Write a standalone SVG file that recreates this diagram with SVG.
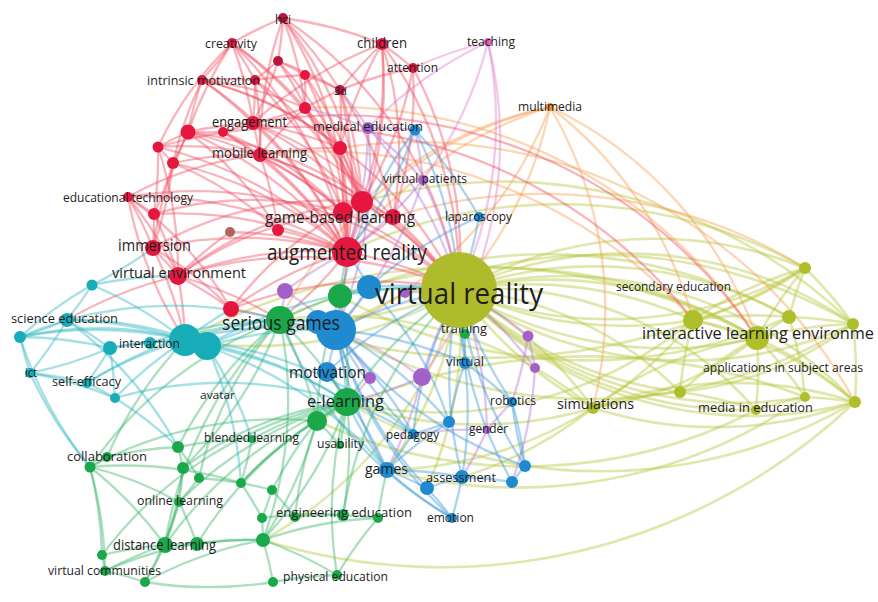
<svg xmlns="http://www.w3.org/2000/svg" width="878" height="602" viewBox="0 0 878 602">
<style>
.e path{fill:none;stroke-width:2.3;stroke-linecap:round;stroke-opacity:.42}
.er path{stroke:#ee4a5c}.eo path{stroke:#f5a050}.ek path{stroke:#e57cc8}.ep path{stroke:#b372d8}
.eb path{stroke:#3a96d8}.eg path{stroke:#38b266}.ec path{stroke:#2ab4c2}.ey path{stroke:#b6c63a;stroke-width:2.6}
.r{fill:#e5173f}.dr{fill:#b81540}.br{fill:#b5625a}.g{fill:#1aa84a}.c{fill:#17adb8}.b{fill:#1f8ad0}
.p{fill:#a460c8}.y{fill:#aebf2a}.o{fill:#f08c3a}.k{fill:#e060c0}
text{font-family:"Open Sans","DejaVu Sans",sans-serif;fill:#1e1e1e;text-anchor:middle;dominant-baseline:central}
</style>
<rect width="878" height="602" fill="#fff"/>
<g id="connectors" class="e">
<g class="ey">
<path d="M459 290A400 400 0 0 1 805 268"/><path d="M459 290A400 400 0 0 1 693 320"/><path d="M459 290A400 400 0 0 1 789 317"/><path d="M459 290A400 400 0 0 1 853 324"/><path d="M459 290A400 400 0 0 1 757 338"/>
<path d="M680 392A400 400 0 0 1 459 290"/><path d="M756 410A400 400 0 0 1 459 290"/><path d="M805 397A400 400 0 0 1 459 290"/><path d="M855 402A400 400 0 0 1 459 290"/><path d="M593 408A400 400 0 0 1 459 290"/>
<path d="M757 338A400 400 0 0 1 459 290"/><path d="M853 324A400 400 0 0 1 459 290"/><path d="M693 320A400 400 0 0 1 757 338"/><path d="M693 320A400 400 0 0 1 805 268"/><path d="M693 320A400 400 0 0 1 789 317"/>
<path d="M680 392A400 400 0 0 1 693 320"/><path d="M693 320A400 400 0 0 1 593 408"/><path d="M757 338A400 400 0 0 1 805 268"/><path d="M757 338A400 400 0 0 1 789 317"/><path d="M757 338A400 400 0 0 1 853 324"/>
<path d="M680 392A400 400 0 0 1 757 338"/><path d="M757 338A400 400 0 0 1 756 410"/><path d="M757 338A400 400 0 0 1 805 397"/><path d="M757 338A400 400 0 0 1 855 402"/><path d="M789 317A400 400 0 0 1 805 268"/>
<path d="M789 317A400 400 0 0 1 853 324"/><path d="M789 317A400 400 0 0 1 805 397"/><path d="M853 324A400 400 0 0 1 855 402"/><path d="M805 268A400 400 0 0 1 853 324"/><path d="M680 392A400 400 0 0 1 756 410"/>
<path d="M756 410A400 400 0 0 1 805 397"/><path d="M805 397A400 400 0 0 1 855 402"/><path d="M593 408A400 400 0 0 1 680 392"/><path d="M593 408A400 400 0 0 1 347 402"/><path d="M593 408A400 400 0 0 1 387 470"/>
<path d="M280 320A400 400 0 0 1 593 408"/><path d="M280 320A500 500 0 0 1 757 338"/><path d="M855 402A500 500 0 0 1 347 402"/><path d="M853 324A500 500 0 0 1 336 330"/><path d="M347 252A500 500 0 0 1 805 268"/>
<path d="M185 340A600 600 0 0 1 757 338"/><path d="M805 397A500 500 0 0 1 387 470"/><path d="M693 320A400 400 0 0 1 347 402"/><path d="M459 290A400 400 0 0 1 855 402"/><path d="M459 290A400 400 0 0 1 280 320"/>
<path d="M459 290A400 400 0 0 1 185 340"/><path d="M459 290A400 400 0 0 1 387 470"/><path d="M459 290A400 400 0 0 1 263 540"/><path d="M459 290A400 400 0 0 1 427 488"/><path d="M362 202A500 500 0 0 1 853 324"/>
<path d="M756 410A500 500 0 0 1 317 421"/><path d="M593 408A400 400 0 0 1 462 477"/><path d="M693 320A400 400 0 0 1 459 290"/><path d="M805 268A400 400 0 0 1 459 290"/><path d="M855 402A600 600 0 0 1 263 540"/>
<path d="M459 290A350 350 0 0 1 680 392"/><path d="M459 290A350 350 0 0 1 756 410"/><path d="M593 408A350 350 0 0 1 757 338"/><path d="M593 408A400 400 0 0 1 855 402"/><path d="M855 402A400 400 0 0 1 593 408"/>
<path d="M757 338A350 350 0 0 1 593 408"/><path d="M805 268A350 350 0 0 1 693 320"/><path d="M853 324A350 350 0 0 1 680 392"/><path d="M336 330A500 500 0 0 1 853 324"/><path d="M805 268A600 600 0 0 1 280 320"/>
<path d="M317 421A600 600 0 0 1 805 397"/><path d="M369 287A500 500 0 0 1 789 317"/><path d="M789 317A500 500 0 0 1 340 296"/><path d="M459 290A400 400 0 0 1 593 408"/><path d="M693 320A400 400 0 0 1 855 402"/>
</g>
<g class="eo">
<path d="M550 107A400 400 0 0 1 459 290"/><path d="M347 252A400 400 0 0 1 550 107"/><path d="M550 107A400 400 0 0 1 593 408"/><path d="M550 107A400 400 0 0 1 757 338"/><path d="M550 107A400 400 0 0 1 336 330"/>
<path d="M362 202A400 400 0 0 1 550 107"/><path d="M550 107A400 400 0 0 1 693 320"/><path d="M280 320A400 400 0 0 1 550 107"/><path d="M340 148A500 500 0 0 1 855 402"/><path d="M393 217A500 500 0 0 1 805 268"/>
<path d="M260 155A500 500 0 0 1 693 320"/><path d="M305 108A500 500 0 0 1 757 338"/>
</g>
<g class="ek">
<path d="M413 68A400 400 0 0 1 488 42"/><path d="M488 42A400 400 0 0 1 459 290"/><path d="M488 42A400 400 0 0 1 423 180"/><path d="M368 128A400 400 0 0 1 488 42"/><path d="M488 42A400 400 0 0 1 422 377"/>
</g>
<g class="er">
<path d="M283 18A400 400 0 0 1 278 61"/><path d="M232 43A400 400 0 0 1 283 18"/><path d="M283 18A400 400 0 0 1 340 90"/><path d="M283 18A400 400 0 0 1 347 252"/><path d="M283 18A400 400 0 0 1 362 202"/>
<path d="M260 155A400 400 0 0 1 283 18"/><path d="M283 18A400 400 0 0 1 382 44"/><path d="M283 18A400 400 0 0 1 459 290"/><path d="M232 43A400 400 0 0 1 202 80"/><path d="M232 43A400 400 0 0 1 255 80"/>
<path d="M232 43A400 400 0 0 1 253 123"/><path d="M232 43A400 400 0 0 1 347 252"/><path d="M188 132A400 400 0 0 1 232 43"/><path d="M278 61A400 400 0 0 1 255 80"/><path d="M278 61A400 400 0 0 1 305 75"/>
<path d="M278 61A400 400 0 0 1 253 123"/><path d="M278 61A400 400 0 0 1 347 252"/><path d="M278 61A400 400 0 0 1 362 202"/><path d="M278 61A400 400 0 0 1 340 90"/><path d="M202 80A400 400 0 0 1 255 80"/>
<path d="M188 132A400 400 0 0 1 202 80"/><path d="M202 80A400 400 0 0 1 253 123"/><path d="M202 80A400 400 0 0 1 347 252"/><path d="M173 163A400 400 0 0 1 202 80"/><path d="M255 80A400 400 0 0 1 253 123"/>
<path d="M255 80A400 400 0 0 1 260 155"/><path d="M255 80A400 400 0 0 1 343 212"/><path d="M255 80A400 400 0 0 1 305 75"/><path d="M305 75A400 400 0 0 1 340 90"/><path d="M305 75A400 400 0 0 1 305 108"/>
<path d="M305 75A400 400 0 0 1 347 252"/><path d="M305 75A400 400 0 0 1 362 202"/><path d="M340 90A400 400 0 0 1 382 44"/><path d="M340 90A400 400 0 0 1 413 68"/><path d="M305 108A400 400 0 0 1 340 90"/>
<path d="M340 90A400 400 0 0 1 340 148"/><path d="M340 90A400 400 0 0 1 347 252"/><path d="M340 90A400 400 0 0 1 362 202"/><path d="M382 44A400 400 0 0 1 413 68"/><path d="M382 44A400 400 0 0 1 347 252"/>
<path d="M382 44A400 400 0 0 1 362 202"/><path d="M340 148A400 400 0 0 1 382 44"/><path d="M382 44A400 400 0 0 1 459 290"/><path d="M253 123A400 400 0 0 1 382 44"/><path d="M413 68A400 400 0 0 1 362 202"/>
<path d="M413 68A400 400 0 0 1 459 290"/><path d="M413 68A400 400 0 0 1 393 217"/><path d="M305 108A400 400 0 0 1 253 123"/><path d="M305 108A400 400 0 0 1 340 148"/><path d="M305 108A400 400 0 0 1 362 202"/>
<path d="M260 155A400 400 0 0 1 305 108"/><path d="M253 123A400 400 0 0 1 223 132"/><path d="M188 132A400 400 0 0 1 253 123"/><path d="M253 123A400 400 0 0 1 260 155"/><path d="M253 123A400 400 0 0 1 347 252"/>
<path d="M253 123A400 400 0 0 1 362 202"/><path d="M253 123A400 400 0 0 1 340 148"/><path d="M223 132A400 400 0 0 1 188 132"/><path d="M223 132A400 400 0 0 1 260 155"/><path d="M223 132A400 400 0 0 1 347 252"/>
<path d="M158 147A400 400 0 0 1 188 132"/><path d="M188 132A400 400 0 0 1 173 163"/><path d="M188 132A400 400 0 0 1 347 252"/><path d="M153 248A400 400 0 0 1 188 132"/><path d="M158 147A400 400 0 0 1 173 163"/>
<path d="M158 147A400 400 0 0 1 154 214"/><path d="M158 147A400 400 0 0 1 347 252"/><path d="M158 147A400 400 0 0 1 178 276"/><path d="M260 155A400 400 0 0 1 340 148"/><path d="M260 155A400 400 0 0 1 347 252"/>
<path d="M260 155A400 400 0 0 1 362 202"/><path d="M260 155A400 400 0 0 1 343 212"/><path d="M260 155A400 400 0 0 1 278 230"/><path d="M260 155A400 400 0 0 1 459 290"/><path d="M173 163A400 400 0 0 1 154 214"/>
<path d="M173 163A400 400 0 0 1 153 248"/><path d="M173 163A400 400 0 0 1 347 252"/><path d="M340 148A400 400 0 0 1 362 202"/><path d="M340 148A400 400 0 0 1 343 212"/><path d="M340 148A400 400 0 0 1 347 252"/>
<path d="M128 197A400 400 0 0 1 154 214"/><path d="M128 197A400 400 0 0 1 153 248"/><path d="M128 197A400 400 0 0 1 347 252"/><path d="M128 197A400 400 0 0 1 178 276"/><path d="M185 340A400 400 0 0 1 128 197"/>
<path d="M154 214A400 400 0 0 1 153 248"/><path d="M154 214A400 400 0 0 1 347 252"/><path d="M154 214A400 400 0 0 1 178 276"/><path d="M230 232A400 400 0 0 1 347 252"/><path d="M178 276A400 400 0 0 1 230 232"/>
<path d="M278 230A400 400 0 0 1 347 252"/><path d="M362 202A400 400 0 0 1 343 212"/><path d="M362 202A400 400 0 0 1 393 217"/><path d="M362 202A400 400 0 0 1 459 290"/><path d="M362 202A400 400 0 0 1 347 252"/>
<path d="M343 212A400 400 0 0 1 347 252"/><path d="M343 212A400 400 0 0 1 459 290"/><path d="M393 217A400 400 0 0 1 459 290"/><path d="M393 217A400 400 0 0 1 347 252"/><path d="M347 252A400 400 0 0 1 459 290"/>
<path d="M178 276A400 400 0 0 1 347 252"/><path d="M153 248A400 400 0 0 1 347 252"/><path d="M231 309A400 400 0 0 1 347 252"/><path d="M347 252A400 400 0 0 1 280 320"/><path d="M347 252A400 400 0 0 1 336 330"/>
<path d="M153 248A400 400 0 0 1 178 276"/><path d="M153 248A400 400 0 0 1 185 340"/><path d="M178 276A400 400 0 0 1 185 340"/><path d="M178 276A400 400 0 0 1 231 309"/><path d="M178 276A400 400 0 0 1 280 320"/>
<path d="M178 276A400 400 0 0 1 459 290"/><path d="M67 320A400 400 0 0 1 178 276"/><path d="M231 309A400 400 0 0 1 280 320"/><path d="M231 309A400 400 0 0 1 459 290"/><path d="M188 132A400 400 0 0 1 459 290"/>
<path d="M158 147A500 500 0 0 1 693 320"/><path d="M253 123A500 500 0 0 1 757 338"/><path d="M202 80A400 400 0 0 1 459 290"/><path d="M128 197A400 400 0 0 1 459 290"/><path d="M232 43A400 400 0 0 1 362 202"/>
<path d="M202 80A350 350 0 0 1 305 108"/><path d="M188 132A350 350 0 0 1 343 212"/><path d="M158 147A350 350 0 0 1 260 155"/><path d="M173 163A350 350 0 0 1 278 230"/><path d="M128 197A350 350 0 0 1 260 155"/>
<path d="M153 248A350 350 0 0 1 362 202"/><path d="M178 276A350 350 0 0 1 362 202"/><path d="M154 214A350 350 0 0 1 343 212"/><path d="M223 132A350 350 0 0 1 343 212"/><path d="M255 80A350 350 0 0 1 362 202"/>
<path d="M232 43A350 350 0 0 1 305 108"/><path d="M283 18A350 350 0 0 1 305 108"/><path d="M382 44A350 350 0 0 1 393 217"/><path d="M340 90A350 350 0 0 1 393 217"/><path d="M253 123A350 350 0 0 1 393 217"/>
<path d="M188 132A350 350 0 0 1 278 230"/><path d="M178 276A350 350 0 0 1 343 212"/><path d="M231 309A350 350 0 0 1 362 202"/><path d="M153 248A350 350 0 0 1 231 309"/><path d="M128 197A350 350 0 0 1 231 309"/>
<path d="M158 147A350 350 0 0 1 232 43"/><path d="M202 80A350 350 0 0 1 340 148"/><path d="M173 163A350 350 0 0 1 260 155"/>
</g>
<g class="ep">
<path d="M340 90A400 400 0 0 1 368 128"/><path d="M368 128A400 400 0 0 1 415 130"/><path d="M368 128A400 400 0 0 1 423 180"/><path d="M368 128A400 400 0 0 1 347 252"/><path d="M368 128A400 400 0 0 1 459 290"/>
<path d="M368 128A400 400 0 0 1 336 330"/><path d="M305 108A400 400 0 0 1 368 128"/><path d="M423 180A400 400 0 0 1 459 290"/><path d="M415 130A400 400 0 0 1 423 180"/><path d="M423 180A400 400 0 0 1 336 330"/>
<path d="M423 180A400 400 0 0 1 347 252"/><path d="M285 291A400 400 0 0 1 347 252"/><path d="M285 291A400 400 0 0 1 280 320"/><path d="M285 291A400 400 0 0 1 336 330"/><path d="M405 293A400 400 0 0 1 459 290"/>
<path d="M336 330A400 400 0 0 1 370 378"/><path d="M370 378A400 400 0 0 1 347 402"/><path d="M422 377A400 400 0 0 1 459 290"/><path d="M336 330A400 400 0 0 1 422 377"/><path d="M422 377A400 400 0 0 1 347 402"/>
<path d="M422 377A400 400 0 0 1 387 470"/><path d="M459 290A400 400 0 0 1 528 336"/><path d="M528 336A400 400 0 0 1 535 368"/><path d="M528 336A400 400 0 0 1 512 402"/><path d="M459 290A400 400 0 0 1 535 368"/>
<path d="M535 368A400 400 0 0 1 512 482"/><path d="M459 290A400 400 0 0 1 487 430"/><path d="M487 430A400 400 0 0 1 512 402"/><path d="M413 434A400 400 0 0 1 487 430"/><path d="M487 430A400 400 0 0 1 462 477"/>
</g>
<g class="eb">
<path d="M415 130A400 400 0 0 1 479 217"/><path d="M415 130A400 400 0 0 1 459 290"/><path d="M336 330A400 400 0 0 1 415 130"/><path d="M415 130A400 400 0 0 1 347 252"/><path d="M479 217A400 400 0 0 1 459 290"/>
<path d="M369 287A400 400 0 0 1 479 217"/><path d="M369 287A400 400 0 0 1 459 290"/><path d="M369 287A400 400 0 0 1 336 330"/><path d="M347 252A400 400 0 0 1 369 287"/><path d="M340 296A400 400 0 0 1 369 287"/>
<path d="M336 330A400 400 0 0 1 280 320"/><path d="M318 322A400 400 0 0 1 336 330"/><path d="M336 330A400 400 0 0 1 327 372"/><path d="M336 330A400 400 0 0 1 347 402"/><path d="M336 330A400 400 0 0 1 459 290"/>
<path d="M185 340A400 400 0 0 1 336 330"/><path d="M387 470A400 400 0 0 1 336 330"/><path d="M336 330A400 400 0 0 1 465 363"/><path d="M280 320A400 400 0 0 1 318 322"/><path d="M327 372A400 400 0 0 1 347 402"/>
<path d="M327 372A400 400 0 0 1 459 290"/><path d="M327 372A400 400 0 0 1 387 470"/><path d="M465 363A400 400 0 0 1 459 290"/><path d="M465 363A400 400 0 0 1 512 402"/><path d="M449 422A400 400 0 0 1 465 363"/>
<path d="M465 363A400 400 0 0 1 462 477"/><path d="M465 363A400 400 0 0 1 465 334"/><path d="M512 402A400 400 0 0 1 459 290"/><path d="M512 402A400 400 0 0 1 525 466"/><path d="M449 422A400 400 0 0 1 413 434"/>
<path d="M387 470A400 400 0 0 1 449 422"/><path d="M336 330A400 400 0 0 1 449 422"/><path d="M413 434A400 400 0 0 1 387 470"/><path d="M347 402A400 400 0 0 1 413 434"/><path d="M413 434A400 400 0 0 1 336 330"/>
<path d="M387 470A400 400 0 0 1 347 402"/><path d="M387 470A400 400 0 0 1 427 488"/><path d="M387 470A400 400 0 0 1 462 477"/><path d="M452 518A400 400 0 0 1 387 470"/><path d="M427 488A400 400 0 0 1 462 477"/>
<path d="M462 477A400 400 0 0 1 512 482"/><path d="M462 477A400 400 0 0 1 452 518"/><path d="M427 488A400 400 0 0 1 452 518"/><path d="M512 482A400 400 0 0 1 525 466"/><path d="M525 466A400 400 0 0 1 459 290"/>
<path d="M512 482A400 400 0 0 1 459 290"/><path d="M525 466A400 400 0 0 1 512 402"/><path d="M452 518A400 400 0 0 1 336 330"/><path d="M462 477A400 400 0 0 1 459 290"/><path d="M427 488A400 400 0 0 1 336 330"/>
<path d="M413 434A400 400 0 0 1 459 290"/><path d="M525 466A400 400 0 0 1 336 330"/><path d="M452 518A400 400 0 0 1 280 320"/><path d="M318 322A350 350 0 0 1 413 434"/><path d="M369 287A350 350 0 0 1 449 422"/>
</g>
<g class="eg">
<path d="M340 296A400 400 0 0 1 459 290"/><path d="M280 320A400 400 0 0 1 340 296"/><path d="M340 296A400 400 0 0 1 347 402"/><path d="M340 296A400 400 0 0 1 347 252"/><path d="M280 320A400 400 0 0 1 347 402"/>
<path d="M185 340A400 400 0 0 1 280 320"/><path d="M280 320A400 400 0 0 1 317 421"/><path d="M178 447A400 400 0 0 1 280 320"/><path d="M90 467A400 400 0 0 1 280 320"/><path d="M165 545A400 400 0 0 1 280 320"/>
<path d="M347 402A400 400 0 0 1 317 421"/><path d="M347 402A400 400 0 0 1 340 445"/><path d="M252 439A400 400 0 0 1 347 402"/><path d="M347 402A400 400 0 0 1 263 540"/><path d="M165 545A400 400 0 0 1 347 402"/>
<path d="M347 402A400 400 0 0 1 343 515"/><path d="M347 402A400 400 0 0 1 459 290"/><path d="M241 483A400 400 0 0 1 347 402"/><path d="M179 502A400 400 0 0 1 347 402"/><path d="M317 421A400 400 0 0 1 340 445"/>
<path d="M317 421A400 400 0 0 1 263 540"/><path d="M272 490A400 400 0 0 1 317 421"/><path d="M465 334A400 400 0 0 1 459 290"/><path d="M178 447A400 400 0 0 1 252 439"/><path d="M252 439A400 400 0 0 1 241 483"/>
<path d="M178 447A400 400 0 0 1 183 468"/><path d="M178 447A400 400 0 0 1 199 478"/><path d="M107 457A400 400 0 0 1 178 447"/><path d="M183 468A400 400 0 0 1 179 502"/><path d="M183 468A400 400 0 0 1 165 545"/>
<path d="M199 478A400 400 0 0 1 241 483"/><path d="M199 478A400 400 0 0 1 179 502"/><path d="M241 483A400 400 0 0 1 272 490"/><path d="M241 483A400 400 0 0 1 262 518"/><path d="M272 490A400 400 0 0 1 262 518"/>
<path d="M272 490A400 400 0 0 1 295 517"/><path d="M107 457A400 400 0 0 1 90 467"/><path d="M90 467A400 400 0 0 1 102 555"/><path d="M90 467A400 400 0 0 1 105 571"/><path d="M90 467A400 400 0 0 1 165 545"/>
<path d="M107 457A400 400 0 0 1 185 340"/><path d="M179 502A400 400 0 0 1 165 545"/><path d="M179 502A400 400 0 0 1 197 544"/><path d="M179 502A400 400 0 0 1 145 582"/><path d="M262 518A400 400 0 0 1 263 540"/>
<path d="M262 518A400 400 0 0 1 343 515"/><path d="M263 540A400 400 0 0 1 273 582"/><path d="M263 540A400 400 0 0 1 337 575"/><path d="M197 544A400 400 0 0 1 263 540"/><path d="M165 545A400 400 0 0 1 197 544"/>
<path d="M102 555A400 400 0 0 1 165 545"/><path d="M105 571A400 400 0 0 1 165 545"/><path d="M165 545A400 400 0 0 1 145 582"/><path d="M102 555A400 400 0 0 1 105 571"/><path d="M105 571A400 400 0 0 1 145 582"/>
<path d="M273 582A400 400 0 0 1 145 582"/><path d="M273 582A400 400 0 0 1 337 575"/><path d="M337 575A400 400 0 0 1 378 518"/><path d="M295 517A400 400 0 0 1 343 515"/><path d="M343 515A400 400 0 0 1 378 518"/>
<path d="M378 518A400 400 0 0 1 387 470"/><path d="M280 320A400 400 0 0 1 183 468"/><path d="M280 320A400 400 0 0 1 263 540"/><path d="M295 517A400 400 0 0 1 317 421"/><path d="M317 421A400 400 0 0 1 340 296"/>
<path d="M90 467A400 400 0 0 1 317 421"/><path d="M102 555A400 400 0 0 1 347 402"/><path d="M343 515A400 400 0 0 1 459 290"/><path d="M337 575A400 400 0 0 1 347 402"/><path d="M197 544A400 400 0 0 1 347 402"/>
<path d="M145 582A400 400 0 0 1 263 540"/><path d="M90 467A400 400 0 0 1 241 483"/><path d="M263 540A400 400 0 0 1 378 518"/><path d="M183 468A350 350 0 0 1 347 402"/><path d="M199 478A350 350 0 0 1 280 320"/>
<path d="M105 571A350 350 0 0 1 263 540"/><path d="M90 467A350 350 0 0 1 179 502"/><path d="M241 483A350 350 0 0 1 317 421"/>
</g>
<g class="ec">
<path d="M92 285A400 400 0 0 1 67 320"/><path d="M92 285A400 400 0 0 1 185 340"/><path d="M153 248A400 400 0 0 1 92 285"/><path d="M20 337A400 400 0 0 1 92 285"/><path d="M67 320A400 400 0 0 1 20 337"/>
<path d="M67 320A400 400 0 0 1 110 348"/><path d="M67 320A400 400 0 0 1 185 340"/><path d="M67 320A400 400 0 0 1 30 373"/><path d="M67 320A400 400 0 0 1 280 320"/><path d="M30 373A400 400 0 0 1 20 337"/>
<path d="M20 337A400 400 0 0 1 110 348"/><path d="M20 337A400 400 0 0 1 185 340"/><path d="M110 348A400 400 0 0 1 185 340"/><path d="M110 348A400 400 0 0 1 30 373"/><path d="M110 348A400 400 0 0 1 87 383"/>
<path d="M110 348A400 400 0 0 1 115 398"/><path d="M185 340A400 400 0 0 1 207 346"/><path d="M207 346A400 400 0 0 1 280 320"/><path d="M115 398A400 400 0 0 1 185 340"/><path d="M87 383A400 400 0 0 1 185 340"/>
<path d="M185 340A400 400 0 0 1 347 402"/><path d="M207 346A400 400 0 0 1 336 330"/><path d="M207 346A400 400 0 0 1 347 402"/><path d="M207 346A400 400 0 0 1 459 290"/><path d="M30 373A400 400 0 0 1 87 383"/>
<path d="M30 373A400 400 0 0 1 115 398"/><path d="M87 383A400 400 0 0 1 115 398"/><path d="M87 383A400 400 0 0 1 280 320"/><path d="M115 398A400 400 0 0 1 178 447"/><path d="M115 398A400 400 0 0 1 347 402"/>
<path d="M90 467A400 400 0 0 1 20 337"/><path d="M90 467A400 400 0 0 1 30 373"/><path d="M67 320A400 400 0 0 1 178 447"/><path d="M92 285A400 400 0 0 1 178 276"/><path d="M185 340A400 400 0 0 1 413 434"/>
<path d="M185 340A400 400 0 0 1 387 470"/><path d="M207 346A400 400 0 0 1 241 483"/><path d="M150 343A400 400 0 0 1 185 340"/><path d="M150 343A400 400 0 0 1 280 320"/><path d="M110 348A400 400 0 0 1 150 343"/>
<path d="M185 340A400 400 0 0 1 231 309"/><path d="M20 337A400 400 0 0 1 67 320"/><path d="M207 346A400 400 0 0 1 252 439"/><path d="M67 320A350 350 0 0 1 207 346"/><path d="M20 337A350 350 0 0 1 207 346"/>
</g>
</g>
<g id="nodes">
<g id="n-r3"><circle class="dr" cx="278" cy="61" r="5"/></g>
<g id="n-r5"><circle class="r" cx="255" cy="80" r="5"/></g>
<g id="n-r6"><circle class="r" cx="305" cy="75" r="5"/></g>
<g id="n-r10"><circle class="r" cx="305" cy="108" r="6"/></g>
<g id="n-r12"><circle class="r" cx="223" cy="132" r="5"/></g>
<g id="n-r13"><circle class="r" cx="188" cy="132" r="7.5"/></g>
<g id="n-r14"><circle class="r" cx="158" cy="147" r="5.5"/></g>
<g id="n-r16"><circle class="r" cx="173" cy="163" r="6"/></g>
<g id="n-r17"><circle class="r" cx="340" cy="148" r="7"/></g>
<g id="n-r19"><circle class="r" cx="154" cy="214" r="6"/></g>
<g id="n-r20"><circle class="br" cx="230" cy="232" r="5"/></g>
<g id="n-r21"><circle class="r" cx="278" cy="230" r="6"/></g>
<g id="n-r22"><circle class="r" cx="362" cy="202" r="11"/></g>
<g id="n-r24"><circle class="r" cx="393" cy="217" r="8"/></g>
<g id="n-r28"><circle class="r" cx="231" cy="309" r="8"/></g>
<g id="n-b1"><circle class="b" cx="415" cy="130" r="5.5"/></g>
<g id="n-b3"><circle class="b" cx="369" cy="287" r="12"/></g>
<g id="n-b4"><circle class="b" cx="336" cy="330" r="20"/></g>
<g id="n-b5"><circle class="b" cx="318" cy="322" r="12"/></g>
<g id="n-b9"><circle class="b" cx="449" cy="422" r="6"/></g>
<g id="n-b13"><circle class="b" cx="427" cy="488" r="7"/></g>
<g id="n-b14"><circle class="b" cx="512" cy="482" r="6"/></g>
<g id="n-b15"><circle class="b" cx="525" cy="466" r="6"/></g>
<g id="n-p3"><circle class="p" cx="285" cy="291" r="8"/></g>
<g id="n-p4"><circle class="p" cx="405" cy="293" r="5"/></g>
<g id="n-p5"><circle class="p" cx="370" cy="378" r="6"/></g>
<g id="n-p6"><circle class="p" cx="422" cy="377" r="9"/></g>
<g id="n-p7"><circle class="p" cx="528" cy="336" r="5.5"/></g>
<g id="n-p8"><circle class="p" cx="535" cy="368" r="5"/></g>
<g id="n-g1"><circle class="g" cx="340" cy="296" r="12"/></g>
<g id="n-g4"><circle class="g" cx="317" cy="421" r="10"/></g>
<g id="n-g8"><circle class="g" cx="178" cy="447" r="6"/></g>
<g id="n-g9"><circle class="g" cx="183" cy="468" r="6"/></g>
<g id="n-g10"><circle class="g" cx="199" cy="478" r="5"/></g>
<g id="n-g11"><circle class="g" cx="241" cy="483" r="5"/></g>
<g id="n-g12"><circle class="g" cx="272" cy="490" r="5"/></g>
<g id="n-g13"><circle class="g" cx="90" cy="467" r="5.5"/></g>
<g id="n-g16"><circle class="g" cx="262" cy="518" r="5"/></g>
<g id="n-g17"><circle class="g" cx="263" cy="540" r="7"/></g>
<g id="n-g19"><circle class="g" cx="197" cy="544" r="7"/></g>
<g id="n-g20"><circle class="g" cx="102" cy="555" r="5"/></g>
<g id="n-g22"><circle class="g" cx="145" cy="582" r="5"/></g>
<g id="n-g23"><circle class="g" cx="273" cy="582" r="5"/></g>
<g id="n-g25"><circle class="g" cx="295" cy="517" r="5"/></g>
<g id="n-g27"><circle class="g" cx="378" cy="518" r="5"/></g>
<g id="n-c1"><circle class="c" cx="92" cy="285" r="5.5"/></g>
<g id="n-c3"><circle class="c" cx="20" cy="337" r="6"/></g>
<g id="n-c4"><circle class="c" cx="110" cy="348" r="7"/></g>
<g id="n-c5"><circle class="c" cx="185" cy="340" r="16"/></g>
<g id="n-c6"><circle class="c" cx="207" cy="346" r="14"/></g>
<g id="n-c9"><circle class="c" cx="115" cy="398" r="5"/></g>
<g id="n-y2"><circle class="y" cx="805" cy="268" r="6"/></g>
<g id="n-y3"><circle class="y" cx="693" cy="320" r="10"/></g>
<g id="n-y4"><circle class="y" cx="789" cy="317" r="7"/></g>
<g id="n-y5"><circle class="y" cx="853" cy="324" r="6"/></g>
<g id="n-y7"><circle class="y" cx="680" cy="392" r="6"/></g>
<g id="n-y9"><circle class="y" cx="805" cy="397" r="5"/></g>
<g id="n-y10"><circle class="y" cx="855" cy="402" r="6"/></g>

<g id="n-hci"><circle class="dr" cx="283" cy="18" r="5"/><text x="283" y="19" font-size="12" textLength="16" lengthAdjust="spacingAndGlyphs">hci</text></g>
<g id="n-creativity"><circle class="r" cx="232" cy="43" r="5"/><text x="231" y="43" font-size="12" textLength="52" lengthAdjust="spacingAndGlyphs">creativity</text></g>
<g id="n-intrinsic"><circle class="r" cx="202" cy="80" r="5"/><text x="203.5" y="80" font-size="12" textLength="113" lengthAdjust="spacingAndGlyphs">intrinsic motivation</text></g>
<g id="n-3d"><circle class="dr" cx="340" cy="90" r="5"/><text x="340.5" y="90" font-size="11" textLength="13" lengthAdjust="spacingAndGlyphs">3d</text></g>
<g id="n-children"><circle class="r" cx="382" cy="44" r="6"/><text x="382" y="42" font-size="14" textLength="50" lengthAdjust="spacingAndGlyphs">children</text></g>
<g id="n-attention"><circle class="r" cx="413" cy="68" r="5"/><text x="412.5" y="67" font-size="12.5" textLength="51" lengthAdjust="spacingAndGlyphs">attention</text></g>
<g id="n-teaching"><circle class="k" cx="488" cy="42" r="4"/><text x="491" y="41" font-size="12.5" textLength="48" lengthAdjust="spacingAndGlyphs">teaching</text></g>
<g id="n-multimedia"><circle class="o" cx="550" cy="107" r="4"/><text x="550" y="106" font-size="12.5" textLength="64" lengthAdjust="spacingAndGlyphs">multimedia</text></g>
<g id="n-engagement"><circle class="r" cx="253" cy="123" r="7"/><text x="249.5" y="121" font-size="14" textLength="75" lengthAdjust="spacingAndGlyphs">engagement</text></g>
<g id="n-medical"><circle class="p" cx="368" cy="128" r="6"/><text x="368" y="126" font-size="13.5" textLength="110" lengthAdjust="spacingAndGlyphs">medical education</text></g>
<g id="n-mobile"><circle class="r" cx="260" cy="155" r="7"/><text x="259.5" y="152" font-size="14" textLength="95" lengthAdjust="spacingAndGlyphs">mobile learning</text></g>
<g id="n-vpatients"><circle class="p" cx="423" cy="180" r="5"/><text x="425" y="178" font-size="12.5" textLength="84" lengthAdjust="spacingAndGlyphs">virtual patients</text></g>
<g id="n-edtech"><circle class="r" cx="128" cy="197" r="5"/><text x="128" y="197" font-size="12.5" textLength="130" lengthAdjust="spacingAndGlyphs">educational technology</text></g>
<g id="n-gbl"><circle class="r" cx="343" cy="212" r="10"/><text x="340" y="217" font-size="16" textLength="150" lengthAdjust="spacingAndGlyphs">game-based learning</text></g>
<g id="n-laparoscopy"><circle class="b" cx="479" cy="217" r="5"/><text x="478.5" y="216" font-size="12.5" textLength="67" lengthAdjust="spacingAndGlyphs">laparoscopy</text></g>
<g id="n-immersion"><circle class="r" cx="153" cy="248" r="8"/><text x="154.5" y="245" font-size="16" textLength="73" lengthAdjust="spacingAndGlyphs">immersion</text></g>
<g id="n-ar"><circle class="r" cx="347" cy="252" r="15"/><text x="347" y="252" font-size="21" textLength="160" lengthAdjust="spacingAndGlyphs">augmented reality</text></g>
<g id="n-venv"><circle class="r" cx="178" cy="276" r="9"/><text x="179" y="272" font-size="15" textLength="134" lengthAdjust="spacingAndGlyphs">virtual environment</text></g>
<g id="n-science"><circle class="c" cx="67" cy="320" r="7"/><text x="64.5" y="318" font-size="13.5" textLength="107" lengthAdjust="spacingAndGlyphs">science education</text></g>
<g id="n-interaction"><circle class="c" cx="150" cy="343" r="6"/><text x="149.5" y="343" font-size="12.5" textLength="61" lengthAdjust="spacingAndGlyphs">interaction</text></g>
<g id="n-ict"><circle class="c" cx="30" cy="373" r="5"/><text x="31" y="372" font-size="12" textLength="12" lengthAdjust="spacingAndGlyphs">ict</text></g>
<g id="n-selfefficacy"><circle class="c" cx="87" cy="383" r="5"/><text x="86.5" y="381" font-size="12.5" textLength="69" lengthAdjust="spacingAndGlyphs">self-efficacy</text></g>
<g id="n-avatar"><text x="217.5" y="394" font-size="11.5" textLength="35" lengthAdjust="spacingAndGlyphs">avatar</text></g>
<g id="n-serious"><circle class="g" cx="280" cy="320" r="14"/><text x="281" y="322" font-size="20" textLength="118" lengthAdjust="spacingAndGlyphs">serious games</text></g>
<g id="n-motivation"><circle class="b" cx="327" cy="372" r="10"/><text x="327.5" y="372" font-size="16" textLength="77" lengthAdjust="spacingAndGlyphs">motivation</text></g>
<g id="n-elearning"><circle class="g" cx="347" cy="402" r="14"/><text x="345.5" y="401" font-size="16" textLength="77" lengthAdjust="spacingAndGlyphs">e-learning</text></g>
<g id="n-training"><circle class="g" cx="465" cy="334" r="5"/><text x="464" y="328" font-size="13" textLength="46" lengthAdjust="spacingAndGlyphs">training</text></g>
<g id="n-virtual"><circle class="b" cx="465" cy="363" r="6"/><text x="465" y="361" font-size="12.5" textLength="38" lengthAdjust="spacingAndGlyphs">virtual</text></g>
<g id="n-robotics"><circle class="b" cx="512" cy="402" r="5"/><text x="513" y="400" font-size="12" textLength="46" lengthAdjust="spacingAndGlyphs">robotics</text></g>
<g id="n-gender"><circle class="p" cx="487" cy="430" r="4"/><text x="488.5" y="428" font-size="12" textLength="39" lengthAdjust="spacingAndGlyphs">gender</text></g>
<g id="n-pedagogy"><circle class="b" cx="413" cy="434" r="5"/><text x="412.5" y="434" font-size="12.5" textLength="53" lengthAdjust="spacingAndGlyphs">pedagogy</text></g>
<g id="n-blended"><circle class="g" cx="252" cy="439" r="4"/><text x="251.5" y="437" font-size="12.5" textLength="95" lengthAdjust="spacingAndGlyphs">blended learning</text></g>
<g id="n-usability"><circle class="g" cx="340" cy="445" r="4"/><text x="340.5" y="443" font-size="12.5" textLength="47" lengthAdjust="spacingAndGlyphs">usability</text></g>
<g id="n-games"><circle class="b" cx="387" cy="470" r="8"/><text x="386.5" y="468" font-size="15" textLength="43" lengthAdjust="spacingAndGlyphs">games</text></g>
<g id="n-assessment"><circle class="b" cx="462" cy="477" r="7"/><text x="461" y="477" font-size="13" textLength="70" lengthAdjust="spacingAndGlyphs">assessment</text></g>
<g id="n-collaboration"><circle class="g" cx="107" cy="457" r="5"/><text x="107" y="456" font-size="13.5" textLength="80" lengthAdjust="spacingAndGlyphs">collaboration</text></g>
<g id="n-online"><circle class="g" cx="179" cy="502" r="5"/><text x="180" y="500" font-size="12.5" textLength="86" lengthAdjust="spacingAndGlyphs">online learning</text></g>
<g id="n-engineering"><circle class="g" cx="343" cy="515" r="6"/><text x="344" y="512" font-size="13.5" textLength="136" lengthAdjust="spacingAndGlyphs">engineering education</text></g>
<g id="n-emotion"><circle class="b" cx="452" cy="518" r="5"/><text x="450.5" y="517" font-size="12.5" textLength="47" lengthAdjust="spacingAndGlyphs">emotion</text></g>
<g id="n-distance"><circle class="g" cx="165" cy="545" r="8"/><text x="164.5" y="544" font-size="14.5" textLength="103" lengthAdjust="spacingAndGlyphs">distance learning</text></g>
<g id="n-vcommunities"><circle class="g" cx="105" cy="571" r="5"/><text x="104.5" y="570" font-size="12.5" textLength="113" lengthAdjust="spacingAndGlyphs">virtual communities</text></g>
<g id="n-physical"><circle class="g" cx="337" cy="575" r="5"/><text x="335.5" y="576" font-size="12.5" textLength="105" lengthAdjust="spacingAndGlyphs">physical education</text></g>
<g id="n-simulations"><circle class="y" cx="593" cy="408" r="6"/><text x="595.5" y="403" font-size="14.5" textLength="77" lengthAdjust="spacingAndGlyphs">simulations</text></g>
<g id="n-secondary"><text x="673.5" y="286" font-size="12.5" textLength="115" lengthAdjust="spacingAndGlyphs">secondary education</text></g>
<g id="n-ile"><circle class="y" cx="757" cy="338" r="12"/><text x="758" y="333" font-size="16" textLength="232" lengthAdjust="spacingAndGlyphs">interactive learning environme</text></g>
<g id="n-applications"><text x="783" y="367" font-size="12.5" textLength="160" lengthAdjust="spacingAndGlyphs">applications in subject areas</text></g>
<g id="n-media"><circle class="y" cx="756" cy="410" r="5"/><text x="755.5" y="407" font-size="13.5" textLength="115" lengthAdjust="spacingAndGlyphs">media in education</text></g>
<g id="n-vr"><circle cx="459" cy="290" r="38" fill="#b0bb2c"/><text x="459" y="292" font-size="29" textLength="168" lengthAdjust="spacingAndGlyphs">virtual reality</text></g>
</g>
</svg>
